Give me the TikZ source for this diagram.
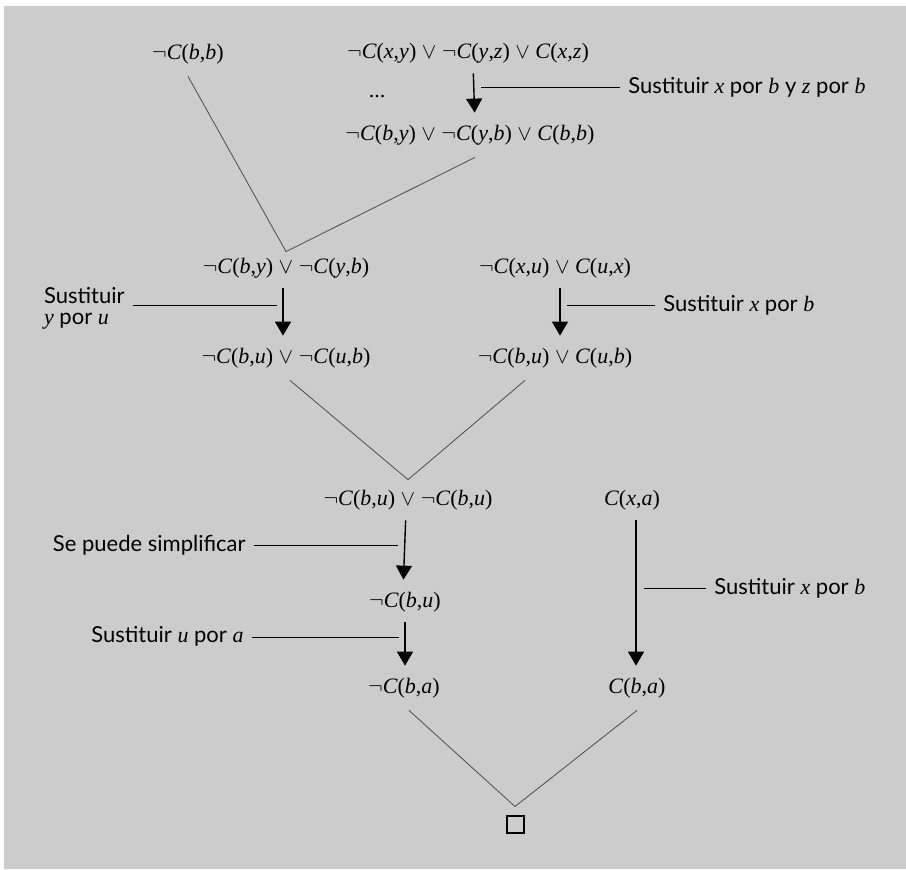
\documentclass[tikz,border=0pt]{standalone}
\usepackage{fontspec}
\setmainfont{Liberation Serif}
\setsansfont{Lato}
\usetikzlibrary{arrows.meta,positioning}

\newcommand{\nneg}{$\neg$}
\newcommand{\oor}{\ $\vee$\ }
\newcommand{\pcl}[2]{\textit{C}(\textit{#1},\textit{#2})}
\newcommand{\vrb}[1]{{\rmfamily\itshape #1}}

\begin{document}
\begin{tikzpicture}[
    x=0.5pt, y=-0.5pt,
    fml/.style={inner sep=0pt, font=\fontsize{11}{13}\selectfont},
    lbl/.style={inner xsep=4pt, inner ysep=0pt, align=left, font=\sffamily\fontsize{11}{10.5}\selectfont},
    arr/.style={-{Triangle[length=7pt,width=8pt]}, line width=0.7pt, shorten <=5pt, shorten >=6pt},
    lead/.style={line width=0.5pt},
    res/.style={draw=black!70, line width=0.4pt},
    empty/.style={draw, line width=1pt, minimum size=8.5pt, inner sep=0pt}
]
\useasboundingbox (0,0) rectangle (906,869);
\fill[black!20] (4,6) rectangle (906,869);

% clauses
\node[fml] (f1) at (188,54) {\nneg\pcl{b}{b}};
\node[fml] (f2) at (468,53) {\nneg\pcl{x}{y}\oor\nneg\pcl{y}{z}\oor\pcl{x}{z}};
\node[fml] (etc) at (377,97) {...};
\node[fml] (f3) at (470,135) {\nneg\pcl{b}{y}\oor\nneg\pcl{y}{b}\oor\pcl{b}{b}};
\node[fml] (f4) at (286,268) {\nneg\pcl{b}{y}\oor\nneg\pcl{y}{b}};
\node[fml] (f5) at (555,268) {\nneg\pcl{x}{u}\oor\pcl{u}{x}};
\node[fml] (f6) at (286,358) {\nneg\pcl{b}{u}\oor\nneg\pcl{u}{b}};
\node[fml] (f7) at (555,358) {\nneg\pcl{b}{u}\oor\pcl{u}{b}};
\node[fml] (f8) at (408,500) {\nneg\pcl{b}{u}\oor\nneg\pcl{b}{u}};
\node[fml] (f9) at (632,500) {\pcl{x}{a}};
\node[fml] (f10) at (405,602) {\nneg\pcl{b}{u}};
\node[fml] (f11) at (404,688) {\nneg\pcl{b}{a}};
\node[fml] (f12) at (637,688) {\pcl{b}{a}};
\node[empty] (box) at (515,824) {};

% substitutions
\draw[arr] ([xshift=2.5pt]f2.south) -- ([xshift=2.5pt]f3.north);
\draw[arr] ([xshift=-1.5pt]f4.south) -- ([xshift=-1.5pt]f6.north);
\draw[arr] ([xshift=2.5pt]f5.south) -- ([xshift=2.5pt]f7.north);
\draw[arr] ([xshift=-1pt]f8.south) -- ([xshift=-1pt]f10.north);
\draw[arr] (f10.south) -- (f10.south |- f11.north);
\draw[arr] ([xshift=2pt]f9.south) -- ([xshift=2pt]f9.south |- f12.north);

% labels
\node[lbl, anchor=west] (l1) at (620,87) {Sustituir \vrb{x} por \vrb{b} y \vrb{z} por \vrb{b}};
\node[lbl, anchor=east] (l2) at (133,308) {Sustituir\\\vrb{y} por \vrb{u}};
\node[lbl, anchor=west] (l3) at (655,305) {Sustituir \vrb{x} por \vrb{b}};
\node[lbl, anchor=east] (l4) at (254,545) {Se puede simplificar};
\node[lbl, anchor=east] (l5) at (252,636) {Sustituir \vrb{u} por \vrb{a}};
\node[lbl, anchor=west] (l6) at (706,588) {Sustituir \vrb{x} por \vrb{b}};

\coordinate (t1) at (481,87);
\coordinate (t2) at (277,305);
\coordinate (t3) at (567,305);
\coordinate (t4) at (398,545);
\coordinate (t5) at (399,637);
\coordinate (t6) at (644,588);
\draw[lead] (l1.west) -- (t1);
\draw[lead] (l2.east |- t2) -- (t2);
\draw[lead] (l3.west) -- (t3);
\draw[lead] (l4.east) -- (t4);
\draw[lead] (l5.east |- t5) -- (t5);
\draw[lead] (l6.west) -- (t6);

% resolution steps
\draw[res] ([yshift=-6pt]f1.south) -- ([yshift=3pt]f4.north) -- ([xshift=2.5pt,yshift=-6pt]f3.south);
\draw[res] ([xshift=2pt,yshift=-6pt]f6.south) -- ([yshift=5pt]f8.north) -- ([xshift=-15pt,yshift=-6pt]f7.south);
\draw[res] ([xshift=2.5pt,yshift=-6pt]f11.south) -- ([yshift=4pt]box.north) -- ([yshift=-6pt]f12.south);
\end{tikzpicture}
\end{document}
